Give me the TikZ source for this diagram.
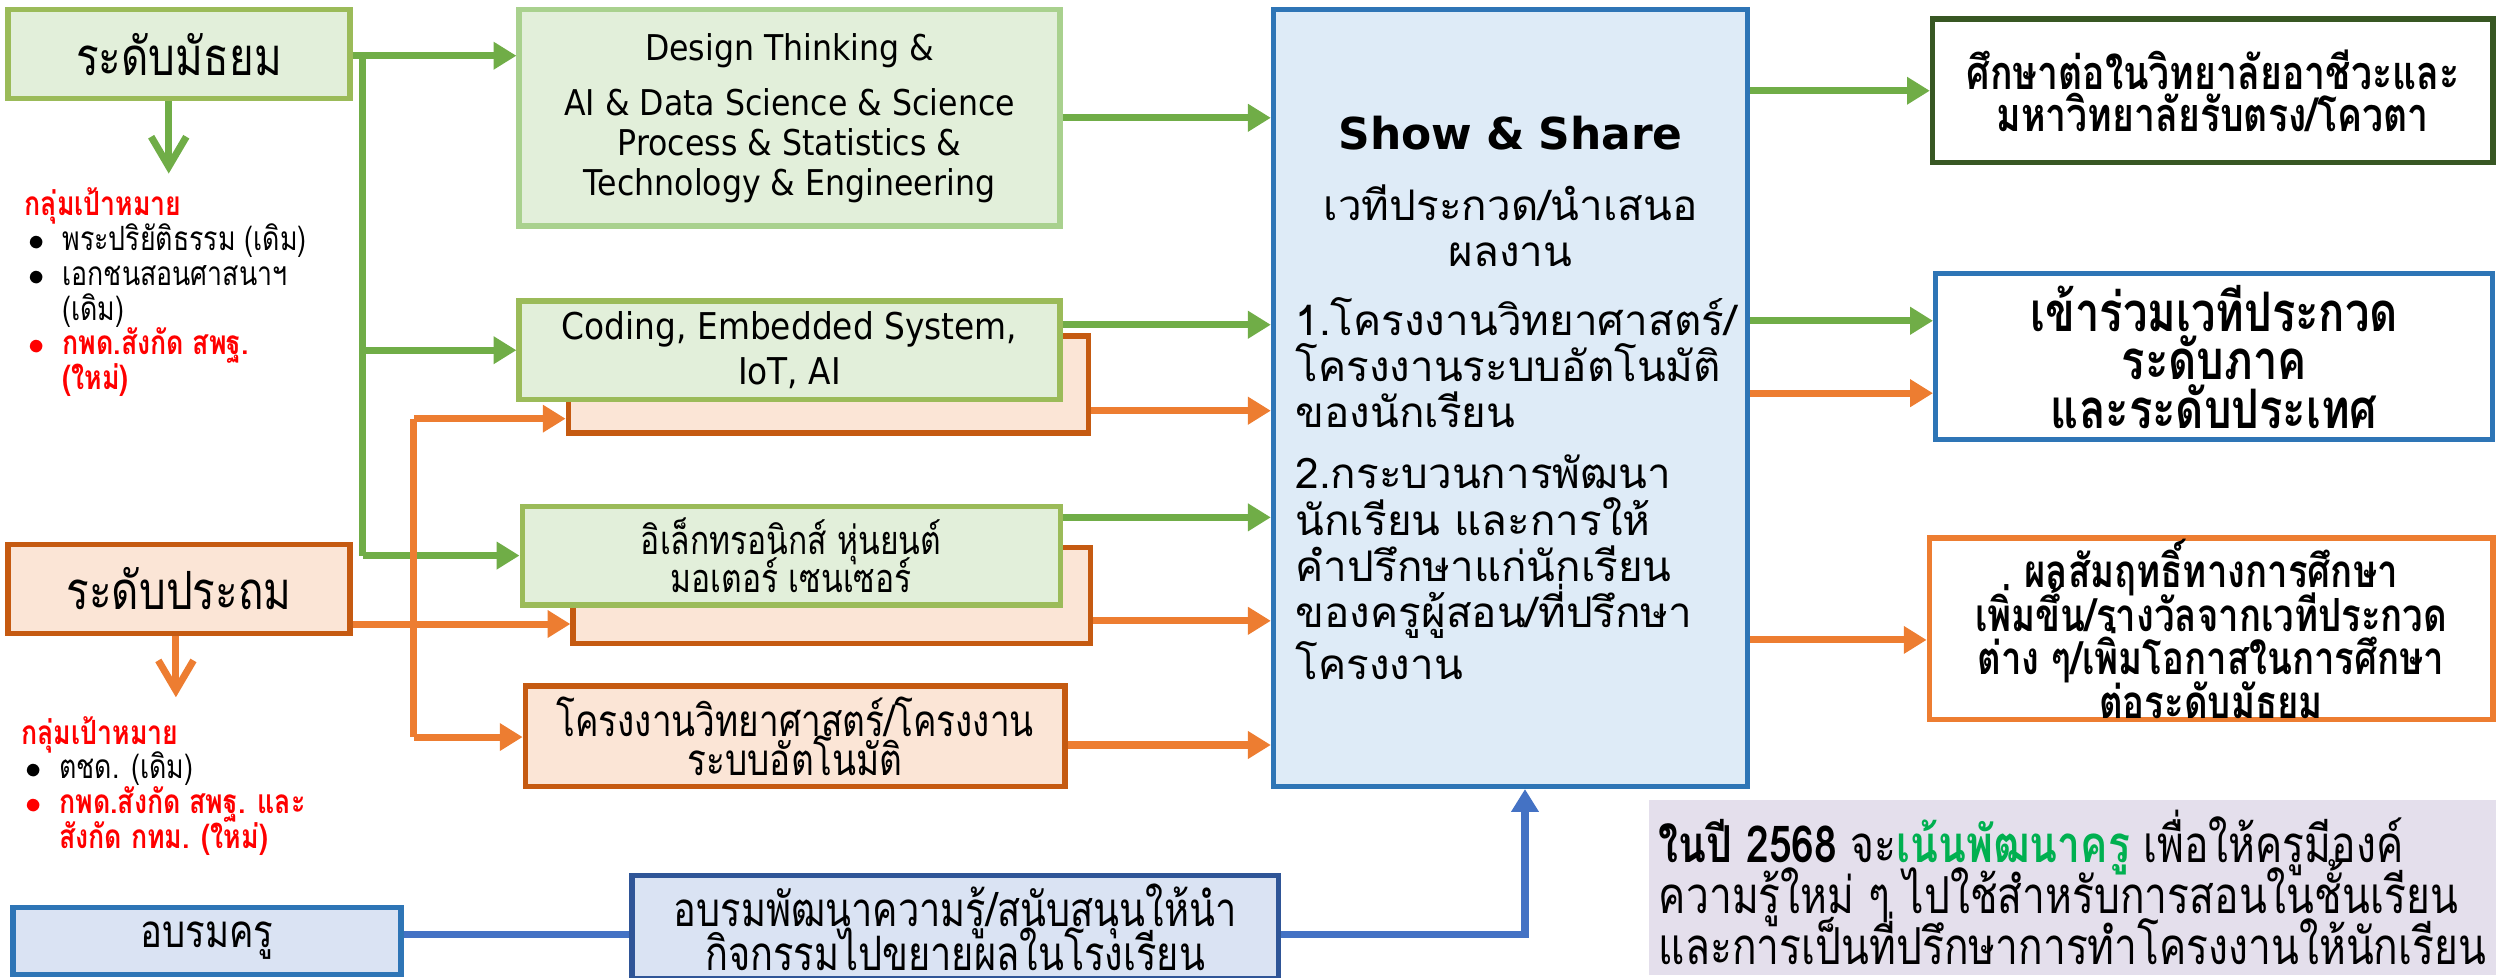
\documentclass[tikz,border=0pt]{standalone}
\usepackage{fontspec}
\setmainfont[Script=Thai]{Loma}
\newfontfamily\thcond[Script=Thai,FakeStretch=0.8]{Loma}
\newfontfamily\encond[FakeStretch=0.89]{DejaVu Sans}
\newfontfamily\enfont{DejaVu Sans}
\usetikzlibrary{arrows.meta}
\lineskiplimit=-30pt

\definecolor{gfill}{HTML}{E2EFDA}
\definecolor{gline}{HTML}{9BBB59}
\definecolor{glight}{HTML}{A9D18E}
\definecolor{garr}{HTML}{70AD47}
\definecolor{gdark}{HTML}{385723}
\definecolor{ofill}{HTML}{FBE5D6}
\definecolor{oline}{HTML}{C55A11}
\definecolor{oarr}{HTML}{ED7D31}
\definecolor{bfill}{HTML}{DEEBF7}
\definecolor{bfill2}{HTML}{DAE3F3}
\definecolor{bline}{HTML}{2E75B6}
\definecolor{bdark}{HTML}{2F5597}
\definecolor{barr}{HTML}{4472C4}
\definecolor{pfill}{HTML}{E4DFEC}
\definecolor{tred}{HTML}{FF0000}
\definecolor{tgreen}{HTML}{00B050}

\newcommand{\bul}{\makebox[10.8pt][l]{\hspace{1.2pt}$\bullet$}}

\tikzset{
  box/.style={rectangle, line width=1.5pt, align=center, inner sep=0pt},
  gbox/.style={box, draw=gline, fill=gfill},
  obox/.style={box, draw=oline, fill=ofill},
  lvl/.style={font=\thcond\fontsize{15}{16}\selectfont},
  listtxt/.style={align=left, inner sep=0pt, font=\thcond\fontsize{9.5}{9.9}\selectfont},
  thtxt/.style={font=\thcond\fontsize{11.3}{10.8}\selectfont},
  outtxt/.style={font=\thcond\bfseries\fontsize{13.3}{11.9}\selectfont},
  garrow/.style={draw=garr, line width=2pt, -{Triangle[length=6.5pt,width=7.5pt]}},
  oarrow/.style={draw=oarr, line width=2pt, -{Triangle[length=6.5pt,width=7.5pt]}},
  barrow/.style={draw=barr, line width=2pt, -{Triangle[length=6.5pt,width=7.5pt]}},
}

\begin{document}
\begin{tikzpicture}[x=0.1592mm, y=-0.1592mm]
\useasboundingbox (0,0) rectangle (1568,614);

% left column
\node[gbox, lvl, minimum width=34.2mm, minimum height=8.9mm] (sec) at (112.5,34) {ระดับมัธยม};
\node[obox, lvl, minimum width=34.2mm, minimum height=8.9mm] (pri) at (112.5,370) {ระดับประถม};
\node[box, draw=bline, fill=bfill2, minimum width=38.8mm, minimum height=6.7mm, font=\thcond\fontsize{13}{14}\selectfont] (train) at (130,591) {อบรมครู};

\node[listtxt, anchor=north west] (tsec) at (15,117.5) {{\color{tred}\bfseries กลุ่มเป้าหมาย}\\
\bul พระปริยัติธรรม (เดิม)\\
\bul เอกชนสอนศาสนาฯ\\
\hspace*{10.8pt}(เดิม)\\
{\color{tred}\bfseries\bul กพด.สังกัด สพฐ.}\\
{\color{tred}\bfseries\hspace*{10.8pt}(ใหม่)}};
\node[listtxt, anchor=north west] (tpri) at (13,449.5) {{\color{tred}\bfseries กลุ่มเป้าหมาย}\\
\bul ตชด. (เดิม)\\
{\color{tred}\bfseries\bul กพด.สังกัด สพฐ. และ}\\
{\color{tred}\bfseries\hspace*{10.8pt}สังกัด กทม. (ใหม่)}};

\coordinate (secdn) at (106,109);
\coordinate (pridn) at (110.5,438);
\draw[draw=garr, line width=2pt, -{Straight Barb[length=8.5pt,width=10pt]}] (secdn |- sec.south) -- (secdn);
\draw[draw=oarr, line width=2pt, -{Straight Barb[length=8.5pt,width=10pt]}] (pridn |- pri.south) -- (pridn);

% middle column
\node[box, draw=glight, fill=gfill, minimum width=54.1mm, minimum height=21.65mm, font=\encond\fontsize{10.1}{11.3}\selectfont] (dt) at (496,74)
  {Design Thinking \&\\[4.5pt] AI \& Data Science \& Science\\ Process \& Statistics \&\\ Technology \& Engineering};
\node[obox, minimum width=52.06mm, minimum height=9.71mm] (codeb) at (520.5,241.5) {};
\node[gbox, minimum width=54.1mm, minimum height=9.87mm, font=\encond\fontsize{10.5}{13}\selectfont] (code) at (496,220)
  {Coding, Embedded System,\\ IoT, AI};
\node[obox, minimum width=51.74mm, minimum height=9.63mm] (elecb) at (522.5,374) {};
\node[gbox, thtxt, minimum width=53.8mm, minimum height=9.87mm] (elec) at (497,349)
  {อิเล็กทรอนิกส์ หุ่นยนต์\\ มอเตอร์ เซนเซอร์};
\node[obox, minimum width=53.97mm, minimum height=10.03mm, font=\thcond\fontsize{12.5}{11.3}\selectfont] (proj) at (499.5,462.5)
  {โครงงานวิทยาศาสตร์/โครงงาน\\ ระบบอัตโนมัติ};
\node[box, draw=bdark, fill=bfill2, minimum width=64.64mm, minimum height=10.35mm, font=\thcond\fontsize{13.5}{12.6}\selectfont] (trainb) at (600,582.5)
  {อบรมพัฒนาความรู้/สนับสนุนให้นำ\\ กิจกรรมไปขยายผลในโรงเรียน};

% centre
\node[box, draw=bline, fill=bfill, minimum width=47.44mm, minimum height=77.69mm, text width=43mm, font=\fontsize{12}{13.1}\selectfont] (show) at (949,250)
  {\centering{\enfont\bfseries\fontsize{12.5}{15}\selectfont Show \& Share}\par\vspace{7pt}
   เวทีประกวด/นำเสนอ\\ ผลงาน\par\vspace{6.5pt}
   \raggedright 1.โครงงานวิทยาศาสตร์/\\ โครงงานระบบอัตโนมัติ\\ ของนักเรียน\par\vspace{4.5pt}
   2.กระบวนการพัฒนา\\ นักเรียน และการให้\\ คำปรึกษาแก่นักเรียน\\ ของครูผู้สอน/ที่ปรึกษา\\ โครงงาน\par};

% right column
\node[box, draw=gdark, outtxt, minimum width=56.04mm, minimum height=14.33mm] (out1) at (1390,57)
  {ศึกษาต่อในวิทยาลัยอาชีวะและ\\ มหาวิทยาลัยรับตรง/โควตา};
\node[box, draw=bline, minimum width=55.72mm, minimum height=16.56mm, font=\thcond\bfseries\fontsize{15.5}{13.8}\selectfont] (out2) at (1391,224)
  {เข้าร่วมเวทีประกวด\\ ระดับภาค\\ และระดับประเทศ};
\node[box, draw=oarr, minimum width=56.36mm, minimum height=18.15mm, font=\thcond\bfseries\fontsize{13}{12.4}\selectfont] (out3) at (1389,395)
  {ผลสัมฤทธิ์ทางการศึกษา\\ เพิ่มขึ้น/รางวัลจากเวทีประกวด\\ ต่าง ๆ/เพิ่มโอกาสในการศึกษา\\ ต่อระดับมัธยม};
\node[box, fill=pfill, align=left, minimum width=84.7mm, minimum height=17.5mm, font=\thcond\fontsize{14.5}{14.4}\selectfont] (note) at (1302,557.5)
  {{\bfseries ในปี 2568} จะ{\bfseries\color{tgreen}เน้นพัฒนาครู} เพื่อให้ครูมีองค์\\ ความรู้ใหม่ ๆ ไปใช้สำหรับการสอนในชั้นเรียน\\ และการเป็นที่ปรึกษาการทำโครงงานให้นักเรียน};

% green connectors
\coordinate (gtop) at (228,35);
\coordinate (gbot) at (228,349);
\draw[draw=garr, line width=2pt] (gtop) -- (gbot);
\draw[garrow] (sec.east |- gtop) -- (gtop -| dt.west);
\draw[garrow] (gtop |- code.west) -- (code.west);
\draw[garrow] (gbot) -- (elec.west);

% orange connectors
\coordinate (otop) at (260,263);
\coordinate (obot) at (260,463);
\coordinate (omid) at (260,392);
\draw[draw=oarr, line width=2pt] (otop) -- (obot);
\draw[oarrow] (pri.east |- omid) -- (omid -| elecb.west);
\draw[oarrow] (otop) -- (otop -| codeb.west);
\draw[oarrow] (obot) -- (obot -| proj.west);

% into show
\draw[garrow] (dt.east) -- (dt.east -| show.west);
\draw[garrow] (code.east |- 0,204) -- (show.west |- 0,204);
\draw[oarrow] (codeb.east |- 0,258) -- (show.west |- 0,258);
\draw[garrow] (elec.east |- 0,325) -- (show.west |- 0,325);
\draw[oarrow] (elecb.east |- 0,390) -- (show.west |- 0,390);
\draw[oarrow] (proj.east |- 0,468) -- (show.west |- 0,468);

% out of show
\draw[garrow] (show.east |- out1.west) -- (out1.west);
\draw[garrow] (show.east |- 0,201.5) -- (out2.west |- 0,201.5);
\draw[oarrow] (show.east |- 0,247) -- (out2.west |- 0,247);
\draw[oarrow] (show.east |- 0,402) -- (out3.west |- 0,402);

% teacher training
\coordinate (bc) at (958,587);
\draw[draw=barr, line width=2pt] (train.east |- bc) -- (trainb.west |- bc);
\draw[barrow] (trainb.east |- bc) -- (bc) -- (bc |- show.south);
\end{tikzpicture}
\end{document}
